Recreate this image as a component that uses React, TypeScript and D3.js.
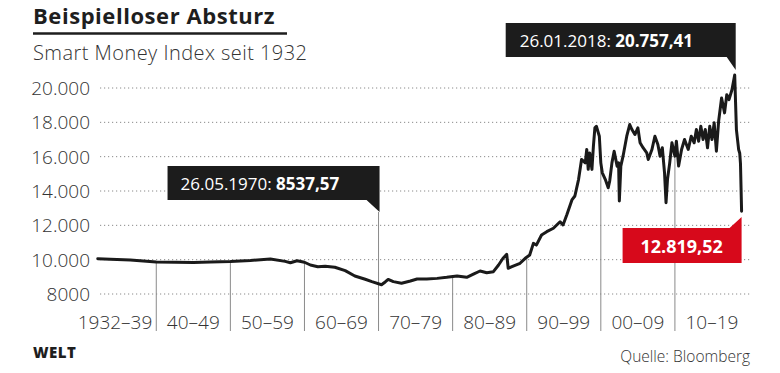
import React from "react";
import * as d3 from "d3";

const years = [
  1932.1, 1933.8, 1936.5, 1940.0, 1942.6, 1945.0, 1947.3, 1950.0, 1952.7, 1955.4,
  1957.4, 1958.1, 1959.0, 1960.0, 1960.8, 1961.8, 1962.8, 1964.1, 1965.5, 1966.8,
  1968.2, 1969.1, 1970.4, 1970.9, 1971.3, 1972.0, 1973.1, 1974.3, 1975.2, 1976.5,
  1977.9, 1979.2, 1980.6, 1981.9, 1982.8, 1983.7, 1984.6, 1985.5, 1986.2, 1986.8,
  1987.3, 1987.5, 1988.0, 1989.1, 1989.8, 1990.4, 1990.9, 1991.3, 1992.0, 1992.7,
  1993.6, 1994.5, 1994.9, 1995.4, 1996.1, 1996.5, 1997.0, 1997.4, 1997.9, 1998.1,
  1998.3, 1998.5, 1998.8, 1999.0, 1999.2, 1999.4, 1999.8, 2000.0, 2000.2, 2000.6,
  2001.0, 2001.2, 2001.5, 2001.8, 2002.2, 2002.4, 2002.5, 2002.7, 2003.0, 2003.5,
  2003.9, 2004.2, 2004.6, 2005.0, 2005.3, 2005.7, 2006.2, 2006.4, 2006.9, 2007.3,
  2007.7, 2008.0, 2008.3, 2008.6, 2008.8, 2009.0, 2009.3, 2009.6, 2010.0, 2010.2,
  2010.5, 2010.9, 2011.3, 2011.8, 2012.2, 2012.6, 2012.9, 2013.2, 2013.5, 2013.8,
  2014.1, 2014.4, 2014.7, 2015.0, 2015.3, 2015.6, 2015.9, 2016.3, 2016.7, 2017.0,
  2017.3, 2017.7, 2018.07, 2018.3, 2018.6, 2018.75, 2018.85, 2019.0,
];

const values = [
  10050, 10020, 9980, 9860, 9850, 9830, 9860, 9890, 9950, 10040,
  9900, 9820, 9940, 9850, 9690, 9590, 9620, 9560, 9360, 9050,
  8860, 8720, 8538, 8700, 8850, 8720, 8630, 8760, 8870, 8870,
  8910, 8970, 9050, 8970, 9160, 9340, 9240, 9300, 9690, 10080,
  10310, 9500, 9590, 9790, 10080, 10270, 10950, 10850, 11440, 11630,
  11830, 12210, 12020, 12600, 13480, 13710, 14680, 15840, 15640, 16420,
  15260, 16220, 15260, 16610, 17680, 17770, 17190, 15640, 15060, 14680,
  14190, 14580, 15640, 16320, 15450, 15640, 13420, 15450, 16030, 17190,
  17870, 17580, 17290, 17680, 16810, 16520, 16220, 15840, 16420, 17190,
  16710, 16030, 16520, 15060, 13320, 14680, 15640, 16810, 16030, 16900,
  15450, 16420, 17000, 16420, 17190, 16810, 17580, 16900, 17770, 17000,
  17580, 16520, 17770, 17000, 17970, 16320, 18060, 19420, 18550, 19610,
  19320, 19900, 20757, 17580, 16420, 16200, 15600, 12820,
];

const yTicks = [8000, 10000, 12000, 14000, 16000, 18000, 20000];
const decadeBreaks = [1940, 1950, 1960, 1970, 1980, 1990, 2000, 2010];
const decadeStarts = [1932, 1940, 1950, 1960, 1970, 1980, 1990, 2000, 2010];
const decadeLabels = ["1932–39", "40–49", "50–59", "60–69", "70–79", "80–89", "90–99", "00–09", "10–19"];

const lowDate = "26.05.1970: ";
const lowValue = "8537,57";
const lowYear = 1970.0;
const highDate = "26.01.2018: ";
const highValue = "20.757,41";
const highYear = 2018.07;
const lastValue = "12.819,52";
const lastYear = 2019.0;

const title = "Beispielloser Absturz";
const subtitle = "Smart Money Index seit 1932";
const source = "Quelle: Bloomberg";
const brand = "WELT";

const W = 780;
const H = 373;
const FONT = "'Open Sans', 'Noto Sans', sans-serif";

const x = d3.scaleLinear().domain([1932, 2020]).range([97, 749]);
const y = d3.scaleLinear().domain([8000, 20000]).range([294, 88]);

const fmtY = (v: number) =>
  v >= 10000 ? d3.format(",")(v).replace(/,/g, ".") : String(v);

const valueAt = (yr: number) => {
  const i = d3.bisectLeft(years, yr);
  if (i <= 0) return values[0];
  if (i >= years.length) return values[values.length - 1];
  const t = (yr - years[i - 1]) / (years[i] - years[i - 1]);
  return values[i - 1] + t * (values[i] - values[i - 1]);
};

export default function App() {
  const data = years.map((yr, i) => [yr, values[i]] as [number, number]);
  const line = d3
    .line<[number, number]>()
    .x((d) => x(d[0]))
    .y((d) => y(d[1]))(data) as string;

  const gridX0 = 100;
  const gridX1 = 751;
  const axisBottom = 331;

  const lowX = x(lowYear) + 1;
  const lowTipY = 212;
  const hiX = x(highYear);
  const hiTipY = 70;
  const lastX = x(lastYear);

  return (
    <svg
      width={W}
      height={H}
      style={{ position: "absolute", left: 0, top: 0, background: "#fff" }}
      fontFamily={FONT}
    >
      {/* title */}
      <text x={33} y={23.5} fontSize={22} fontWeight={700} fill="#1e1e1e" letterSpacing={0.55}>
        {title}
      </text>
      <line x1={33} x2={287} y1={33.5} y2={33.5} stroke="#1e1e1e" strokeWidth={2.5} />
      <text x={33} y={60} fontSize={20} fontWeight={300} fill="#333" letterSpacing={0.45}>
        {subtitle}
      </text>

      {/* gridlines + y labels */}
      {yTicks.map((t) => (
        <g key={t}>
          <line
            x1={gridX0}
            x2={gridX1}
            y1={y(t)}
            y2={y(t)}
            stroke="#8a8a8a"
            strokeWidth={1}
            strokeDasharray="1.2,2.8"
          />
          <text
            x={90}
            y={y(t)}
            dy="0.36em"
            textAnchor="end"
            fontSize={19}
            fontWeight={300}
            fill="#333"
          >
            {fmtY(t)}
          </text>
        </g>
      ))}

      {/* decade separators */}
      {decadeBreaks.map((d) => (
        <line
          key={d}
          x1={x(d)}
          x2={x(d)}
          y1={d === 1970 ? lowTipY : y(valueAt(d))}
          y2={axisBottom}
          stroke="#8a8a8a"
          strokeWidth={1}
        />
      ))}

      {/* x labels */}
      {decadeLabels.map((lab, i) => {
        const start = decadeStarts[i];
        const isFirst = i === 0;
        const cx = isFirst ? x(1940) - 4 : (x(start) + x(start + 10)) / 2;
        return (
          <text
            key={lab}
            x={cx}
            y={329}
            textAnchor={isFirst ? "end" : "middle"}
            fontSize={19}
            fontWeight={300}
            fill="#333"
          >
            {lab}
          </text>
        );
      })}

      {/* line */}
      <path
        d={line}
        fill="none"
        stroke="#1a1a1a"
        strokeWidth={3}
        strokeLinejoin="round"
        strokeLinecap="round"
      />

      {/* low annotation */}
      <path
        d={`M${lowX - 212},166 H${lowX} V${lowTipY} L${lowX - 13},200 H${lowX - 212} Z`}
        fill="#1c1c1c"
      />
      <text x={lowX - 199} y={190} fontSize={17} fill="#fff">
        <tspan>{lowDate}</tspan>
        <tspan fontWeight={700}>{lowValue}</tspan>
      </text>

      {/* high annotation */}
      <path
        d={`M${hiX - 229},23 H${hiX + 1} V${hiTipY} L${hiX - 8},57 H${hiX - 229} Z`}
        fill="#1c1c1c"
      />
      <text x={hiX - 215} y={47} fontSize={17} fill="#fff">
        <tspan>{highDate}</tspan>
        <tspan fontWeight={700}>{highValue}</tspan>
      </text>

      {/* last value */}
      <path
        d={`M${lastX - 119},228 H${lastX - 12} L${lastX},217 V263 H${lastX - 119} Z`}
        fill="#d7091b"
      />
      <text
        x={lastX - 60}
        y={253}
        textAnchor="middle"
        fontSize={18}
        fontWeight={700}
        fill="#fff"
      >
        {lastValue}
      </text>

      {/* footer */}
      <text x={33} y={358} fontSize={15} fontWeight={800} fill="#1e1e1e" letterSpacing={0.5}>
        {brand}
      </text>
      <text x={750} y={362} textAnchor="end" fontSize={15.5} fontWeight={300} fill="#333">
        {source}
      </text>
    </svg>
  );
}
